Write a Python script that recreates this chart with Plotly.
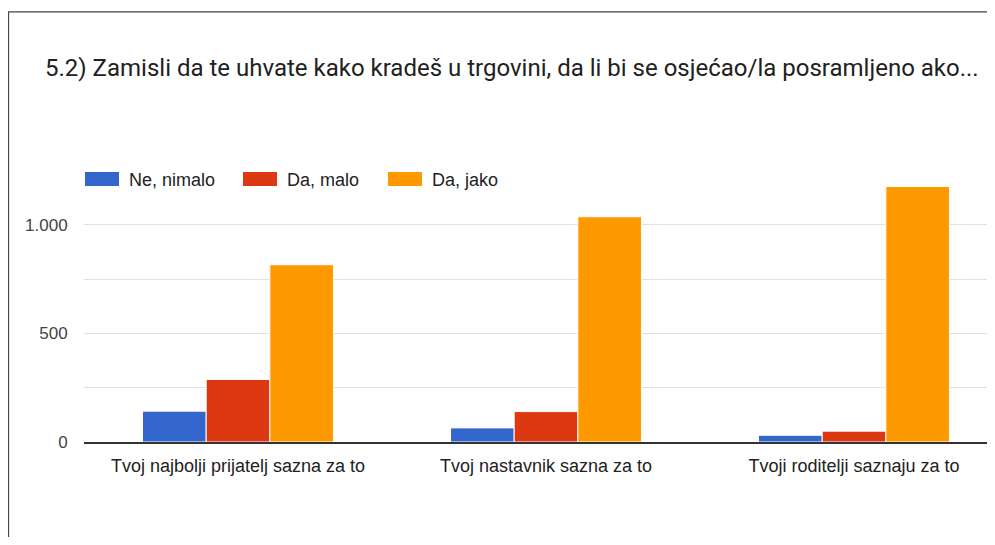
import plotly.graph_objects as go

categories = ["Tvoj najbolji prijatelj sazna za to", "Tvoj nastavnik sazna za to", "Tvoji roditelji saznaju za to"]
series_names = ["Ne, nimalo", "Da, malo", "Da, jako"]
ne_nimalo = [142, 65, 31]
da_malo = [288, 140, 50]
da_jako = [816, 1037, 1176]
tick_values = [0, 250, 500, 750, 1000, 1250]
tick_labels = ["0", "", "500", "", "1.000", ""]
title_text = "5.2) Zamisli da te uhvate kako kradeš u trgovini, da li bi se osjećao/la posramljeno ako..."

colors = ["#3366CC", "#DC3912", "#FF9900"]
OFF = 8  # page body margin offset
W, H = 995 - 2 * OFF, 545 - 2 * OFF
L, T, B_PX = 84 - OFF, 170 - OFF, 441.7 - OFF
R = 0
plot_w = W - L - R
plot_h = B_PX - T


def px_x(p):
    return (p - OFF - L) / plot_w


def px_y(p):
    return (B_PX - (p - OFF)) / plot_h


fig = go.Figure()
for name, vals, col in zip(series_names, [ne_nimalo, da_malo, da_jako], colors):
    fig.add_trace(go.Bar(x=categories, y=vals, name=name, marker=dict(color=col, line=dict(color="white", width=1)),
                         showlegend=False))

slot = 308.0
x_hi = -0.5 + plot_w / slot

shapes = [
    dict(type="rect", xref="paper", yref="paper", x0=px_x(8.5), x1=px_x(1100), y0=px_y(12), y1=px_y(700),
         line=dict(color="#444444", width=1.3), fillcolor="rgba(0,0,0,0)", layer="below"),
]
annotations = []
legend_x = [85, 243, 388]
for name, col, lx in zip(series_names, colors, legend_x):
    shapes.append(dict(type="rect", xref="paper", yref="paper", x0=px_x(lx), x1=px_x(lx + 34),
                       y0=px_y(186), y1=px_y(172), fillcolor=col, line=dict(width=0)))
    annotations.append(dict(xref="paper", yref="paper", x=px_x(lx + 42), y=px_y(179.5), text=name,
                            showarrow=False, xanchor="left", yanchor="middle",
                            font=dict(family="Arial, Liberation Sans", size=18, color="#222222")))

fig.update_layout(
    width=W, height=H,
    margin=dict(l=L, r=R, t=T, b=H - B_PX, pad=0),
    paper_bgcolor="white", plot_bgcolor="white",
    title=dict(text=title_text, xref="container", yref="container", x=(45 - OFF) / W, xanchor="left",
               y=1 - (68 - OFF) / H, yanchor="middle",
               font=dict(family="Roboto, Arial", size=24, color="#212121")),
    barmode="group", bargap=0.38, bargroupgap=0,
    shapes=shapes, annotations=annotations,
    font=dict(family="Arial, Liberation Sans"),
    xaxis=dict(range=[-0.5, x_hi], showline=True, linecolor="#333333", linewidth=2, showgrid=False,
               ticks="outside", ticklen=6, tickcolor="rgba(0,0,0,0)",
               tickfont=dict(family="Arial, Liberation Sans", size=18, color="#222222"), fixedrange=True),
    yaxis=dict(range=[0, 1252], tickvals=tick_values, ticktext=tick_labels, showgrid=True,
               gridcolor="#E0E0E0", gridwidth=1, zeroline=False, ticks="outside", ticklen=12,
               tickcolor="rgba(0,0,0,0)", tickfont=dict(family="Arial, Liberation Sans", size=17, color="#444444")),
)

fig.write_html("out.html")
